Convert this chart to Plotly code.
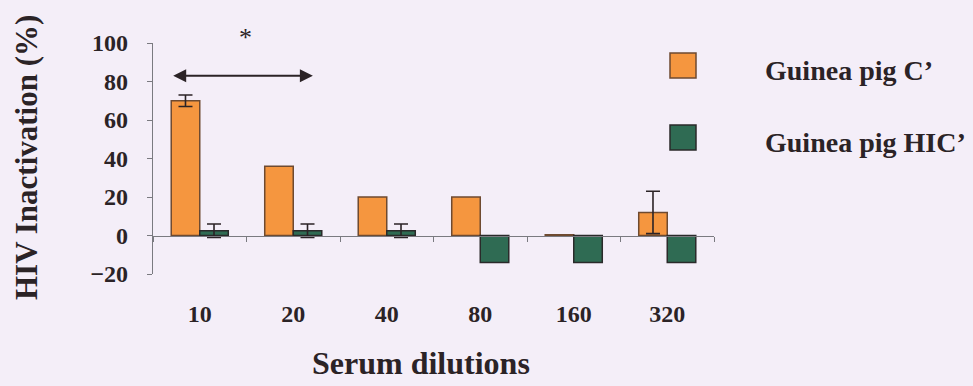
import plotly.graph_objects as go

# Serum dilution categories and HIV inactivation (%) for each guinea pig serum
dilutions = ["10", "20", "40", "80", "160", "320"]
active_c = [70, 36, 20, 20, 0.4, 12]
active_err = [3, None, None, None, None, 11]
heat_inact_c = [2.5, 2.5, 2.5, -14, -14, -14]
heat_inact_err = [3.5, 3.5, 3.5, None, None, None]
series_names = ["Guinea pig C\u2019", "Guinea pig HIC\u2019"]
y_ticks = [-20, 0, 20, 40, 60, 80, 100]

W, H = 973, 386
L, R, T, B = 153, 259, 43, 112
PW, PH = W - L - R, H - T - B


def px_x(p):
    return (p - L) / PW


def px_y(p):
    return (H - B - p) / PH


ORANGE = "#F5963F"
GREEN = "#2F6B53"
INK = "#2b2326"
AXIS = "#7a7a80"
FONT = "Liberation Serif"

fig = go.Figure()


def add_series(values, errors, name, fill, edge, group):
    """Bars for one serum; points with a measured spread get error bars."""
    with_err = [i for i, e in enumerate(errors) if e is not None]
    without_err = [i for i, e in enumerate(errors) if e is None]
    marker = dict(color=fill, line=dict(color=edge, width=1.5))
    if with_err:
        fig.add_trace(go.Bar(
            x=[dilutions[i] for i in with_err], y=[values[i] for i in with_err],
            name=name, offsetgroup=group, marker=marker,
            error_y=dict(type="data", array=[errors[i] for i in with_err],
                         visible=True, color=INK, thickness=1.6, width=7),
        ))
    if without_err:
        fig.add_trace(go.Bar(
            x=[dilutions[i] for i in without_err],
            y=[values[i] for i in without_err],
            name=name, offsetgroup=group, marker=marker,
        ))


add_series(active_c, active_err, series_names[0], ORANGE, "#6e4a30", "c")
add_series(heat_inact_c, heat_inact_err, series_names[1], GREEN, "#2a2a2a", "hic")

# Significance marker: double-headed arrow with an asterisk above it
fig.add_annotation(x=1.21, y=83, ax=-0.3, ay=83, xref="x", yref="y",
                   axref="x", ayref="y", text="", showarrow=True,
                   arrowhead=2, startarrowhead=2, arrowside="end+start",
                   arrowsize=1.3, startarrowsize=1.3, arrowwidth=2,
                   arrowcolor=INK)
fig.add_annotation(x=px_x(245), y=px_y(38), xref="paper", yref="paper",
                   xanchor="center", yanchor="middle",
                   text="*", showarrow=False,
                   font=dict(family=FONT, size=26, color=INK))

# Legend boxes and labels
legend_rows = [(53, 78, ORANGE, "#6e4a30", 70), (125, 150, GREEN, "#2a2a2a", 142)]
for (top, bot, fill, edge, mid), label in zip(legend_rows, series_names):
    fig.add_shape(type="rect", xref="paper", yref="paper",
                  x0=px_x(670), x1=px_x(696), y0=px_y(bot), y1=px_y(top),
                  fillcolor=fill, line=dict(color=edge, width=1.5))
    fig.add_annotation(x=px_x(763), y=px_y(mid), xref="paper", yref="paper",
                       xanchor="left", yanchor="middle", text=label,
                       showarrow=False,
                       font=dict(family=FONT, size=28, color=INK, weight="bold"))

# Axis titles
fig.add_annotation(x=px_x(26), y=px_y(158), xref="paper", yref="paper",
                   xanchor="center", yanchor="middle",
                   text="HIV Inactivation (%)", textangle=-90,
                   showarrow=False,
                   font=dict(family=FONT, size=31, color=INK, weight="bold"))
fig.add_annotation(x=px_x(421), y=px_y(363), xref="paper", yref="paper",
                   xanchor="center", yanchor="middle",
                   text="Serum dilutions", showarrow=False,
                   font=dict(family=FONT, size=32, color=INK, weight="bold"))

fig.update_layout(
    width=W, height=H, margin=dict(l=L, r=R, t=T, b=B, pad=0),
    paper_bgcolor="#F4EEF8", plot_bgcolor="#F4EEF8",
    barmode="group", bargap=0.39, bargroupgap=0,
    showlegend=False,
    font=dict(family=FONT, color=INK),
)
fig.update_xaxes(
    type="category", categoryorder="array", categoryarray=dilutions,
    anchor="free", position=px_y(236),
    showline=True, linecolor=AXIS, linewidth=1.2,
    ticks="outside", tickson="boundaries", ticklen=5, tickcolor=AXIS,
    showgrid=False, ticklabelstandoff=56,
    tickfont=dict(family=FONT, size=24, color=INK, weight="bold"),
)
fig.update_yaxes(
    range=[-20, 100], tickvals=y_ticks, showline=True, linecolor=AXIS,
    linewidth=1.2, ticks="outside", ticklen=5, tickcolor=AXIS,
    showgrid=False, zeroline=False, ticklabelstandoff=14,
    tickfont=dict(family=FONT, size=24, color=INK, weight="bold"),
)

fig.write_html("out.html")
